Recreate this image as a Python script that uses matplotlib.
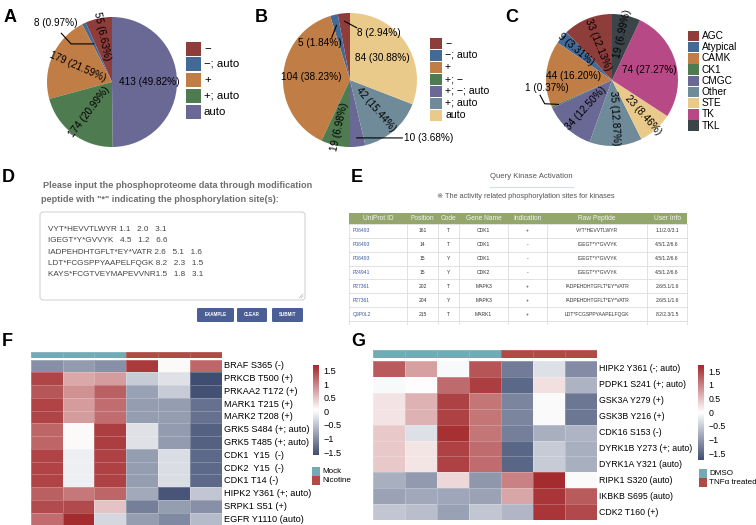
import numpy as np
import matplotlib
matplotlib.use("Agg")
import matplotlib.pyplot as plt
import matplotlib.cm as cm
from matplotlib.patches import Rectangle, FancyBboxPatch
from matplotlib.colors import LinearSegmentedColormap, ListedColormap, Normalize

plt.rcParams['font.family'] = ['Liberation Sans', 'DejaVu Sans', 'Noto Sans CJK SC']

W, H = 756, 525

### DATA ###
palette = ['#8E3D3B', '#436A97', '#C07D46', '#4F7B50', '#6A6894',
           '#6F8A99', '#E9CA8B', '#B74A86', '#3B4549']

a_labels = ['\u2212', '\u2212; auto', '+', '+; auto', 'auto']
a_counts = [55, 8, 179, 174, 413]
a_pcts = ['6.63%', '0.97%', '21.59%', '20.99%', '49.82%']

b_labels = ['\u2212', '\u2212; auto', '+', '+; \u2212', '+; \u2212; auto', '+; auto', 'auto']
b_counts = [8, 5, 104, 19, 10, 42, 84]
b_pcts = ['2.94%', '1.84%', '38.23%', '6.98%', '3.68%', '15.44%', '30.88%']

c_labels = ['AGC', 'Atypical', 'CAMK', 'CK1', 'CMGC', 'Other', 'STE', 'TK', 'TKL']
c_counts = [33, 9, 44, 1, 34, 35, 23, 74, 19]
c_pcts = ['12.13%', '3.31%', '16.20%', '0.37%', '12.50%', '12.87%', '8.46%', '27.27%', '6.99%']

d_title = ['Please input the phosphoproteome data through modification',
           'peptide with "*" indicating the phosphorylation site(s):']
d_lines = ['VYT*HEVVTLWYR 1.1   2.0   3.1',
           'IGEGT*Y*GVVYK   4.5   1.2   6.6',
           'IADPEHDHTGFLT*EY*VATR 2.6   5.1   1.6',
           'LDT*FCGSPPYAAPELFQGK 8.2   2.3   1.5',
           'KAYS*FCGTVEYMAPEVVNR1.5   1.8   3.1']
d_buttons = ['EXAMPLE', 'CLEAR', 'SUBMIT']

e_header = ['UniProt ID', 'Position', 'Code', 'Gene Name', 'Indication', 'Raw Peptide', 'User Info']
e_ids = ['P06493', 'P06493', 'P06493', 'P24941', 'P27361', 'P27361', 'Q9P0L2']
e_pos = ['161', '14', '15', '15', '202', '204', '215']
e_code = ['T', 'T', 'Y', 'Y', 'T', 'Y', 'T']
e_gene = ['CDK1', 'CDK1', 'CDK1', 'CDK2', 'MAPK3', 'MAPK3', 'MARK1']
e_ind = ['+', '-', '-', '-', '+', '+', '+']
e_pep = ['VYT*HEVVTLWYR', 'IGEGT*Y*GVVYK', 'IGEGT*Y*GVVYK', 'IGEGT*Y*GVVYK',
         'IADPEHDHTGFLT*EY*VATR', 'IADPEHDHTGFLT*EY*VATR', 'LDT*FCGSPPYAAPELFQGK']
e_info = ['1.1/2.0/3.1', '4.5/1.2/6.6', '4.5/1.2/6.6', '4.5/1.2/6.6',
          '2.6/5.1/1.6', '2.6/5.1/1.6', '8.2/2.3/1.5']

f_rows = ['BRAF S365 (-)', 'PRKCB T500 (+)', 'PRKAA2 T172 (+)', 'MARK1 T215 (+)',
          'MARK2 T208 (+)', 'GRK5 S484 (+; auto)', 'GRK5 T485 (+; auto)',
          'CDK1  Y15  (-)', 'CDK2  Y15  (-)', 'CDK1 T14 (-)', 'HIPK2 Y361 (+; auto)',
          'SRPK1 S51 (+)', 'EGFR Y1110 (auto)']
f_groups = [0, 0, 0, 1, 1, 1]
f_group_names = ['Mock', 'Nicotine']
f_vals = np.array([
    [-0.97, -0.87, -0.97, 1.57, 0.10, 1.22],
    [1.47, 0.71, 0.80, -0.43, -0.23, -1.59],
    [1.35, 0.89, 1.27, -0.82, -0.43, -1.55],
    [1.49, 0.80, 1.17, -0.86, -0.86, -1.26],
    [1.49, 0.80, 1.17, -0.86, -0.86, -1.26],
    [1.23, 0.09, 1.52, -0.23, -0.87, -1.41],
    [1.23, 0.09, 1.52, -0.23, -0.87, -1.41],
    [1.49, -0.10, 1.50, -0.86, -0.27, -1.34],
    [1.49, -0.10, 1.50, -0.86, -0.27, -1.34],
    [1.49, -0.10, 1.50, -0.86, -0.27, -1.34],
    [1.27, 1.09, 1.23, -0.74, -1.52, -0.47],
    [1.42, 1.44, 0.51, -1.13, -0.86, -0.97],
    [1.16, 1.67, -0.32, -0.86, -1.04, -0.57],
])

g_rows = ['HIPK2 Y361 (-; auto)', 'PDPK1 S241 (+; auto)', 'GSK3A Y279 (+)',
          'GSK3B Y216 (+)', 'CDK16 S153 (-)', 'DYRK1B Y273 (+; auto)',
          'DYRK1A Y321 (auto)', 'RIPK1 S320 (auto)', 'IKBKB S695 (auto)', 'CDK2 T160 (+)']
g_groups = [0, 0, 0, 0, 1, 1, 1]
g_group_names = ['DMSO', 'TNF\u03b1 treated']
g_vals = np.array([
    [1.30, 0.75, -0.08, 1.36, -1.28, -0.32, -1.14],
    [-0.08, 0.00, 1.18, 1.54, -1.49, 0.23, -0.75],
    [0.21, 0.60, 1.51, 1.09, -1.20, -0.06, -1.33],
    [0.21, 0.60, 1.51, 1.09, -1.20, -0.06, -1.33],
    [0.43, -0.32, 1.65, 1.09, -1.25, -0.80, -0.74],
    [0.43, 0.20, 1.51, 1.17, -1.50, -0.52, -0.79],
    [0.43, 0.20, 1.51, 1.17, -1.50, -0.52, -0.79],
    [-0.79, -1.00, 0.31, -1.02, 0.99, 1.69, -0.06],
    [-0.92, -0.86, -0.87, -0.92, 0.70, 1.60, 1.30],
    [-0.57, -0.64, -0.93, -0.56, -0.72, 1.60, 1.45],
])

cb_ticks = [1.5, 1, 0.5, 0, -0.5, -1, -1.5]
cb_ticklabels = ['1.5', '1', '0.5', '0', '\u22120.5', '\u22121', '\u22121.5']

### LAYOUT HELPERS ###
fig = plt.figure(figsize=(W / 100, H / 100), dpi=100)


def box(x, y, w, h):
    # axes placed in pixel units, y measured from the top
    return fig.add_axes([x / W, 1 - (y + h) / H, w / W, h / H])


ov = box(0, 0, W, H)
ov.set_xlim(0, W)
ov.set_ylim(H, 0)
ov.axis('off')

for let, x, y in [('A', 10, 17), ('B', 261, 17), ('C', 512, 17), ('D', 8, 177),
                  ('E', 357, 177), ('F', 7, 342), ('G', 358, 342)]:
    ov.text(x, y, let, ha='center', va='center', fontsize=13, fontweight='bold')


### PIES ###
def draw_pie(cx, cy, r, counts, pcts, modes, outs):
    ax = box(cx - r, cy - r, 2 * r, 2 * r)
    wedges, _ = ax.pie(counts, colors=palette[:len(counts)], startangle=90,
                       counterclock=True, wedgeprops=dict(linewidth=0))
    frac = np.array(counts) / sum(counts)
    k = 0
    for w, n, p, m, f in zip(wedges, counts, pcts, modes, frac):
        label = f'{n} ({p})'
        mid = (w.theta1 + w.theta2) / 2
        a = np.deg2rad(mid)
        if m == 'o':
            tx, ty, ha, elbows, rr = outs[k]
            k += 1
            xs = [rr * np.cos(a)] + [e[0] for e in elbows]
            ys = [rr * np.sin(a)] + [e[1] for e in elbows]
            ax.plot(xs, ys, color='black', lw=0.8, clip_on=False)
            ax.text(tx, ty, label, ha=ha, va='center', fontsize=7.2)
            continue
        rr = 0.58 if f > 0.09 else 0.72
        rot = 0
        if m == 'r':
            d = (mid + 180) % 360 - 180
            rot = d - 180 if d > 90 else (d + 180 if d < -90 else d)
        ax.text(rr * np.cos(a), rr * np.sin(a), label, rotation=rot,
                rotation_mode='anchor', ha='center', va='center', fontsize=7.2)
    ax.set_xlim(-1, 1)
    ax.set_ylim(-1, 1)
    ax.set_aspect('equal')
    ax.axis('off')


def pie_legend(x, y0, step, sw, sh, labels, fs):
    for i, lab in enumerate(labels):
        yc = y0 + i * step
        ov.add_patch(Rectangle((x, yc - sh / 2), sw, sh, fc=palette[i], ec='none'))
        ov.text(x + sw + 3, yc, lab, ha='left', va='center', fontsize=fs)


draw_pie(112, 82, 65, a_counts, a_pcts, ['r', 'o', 'r', 'r', 'h'],
         [(-0.86, 0.90, 'center', [(-0.63, 0.586), (-0.78, 0.75)], 0.65)])
pie_legend(186, 48.5, 15.9, 15, 14, a_labels, 8.2)

draw_pie(350, 80, 67, b_counts, b_pcts, ['o', 'o', 'h', 'r', 'o', 'r', 'h'],
         [(0.11, 0.70, 'left', [(0.10, 0.78)], 0.88),
          (-0.12, 0.55, 'right', [(-0.27, 0.64)], 0.84),
          (0.80, -0.865, 'left', [(0.78, -0.865)], 0.87)])
pie_legend(430, 43.3, 11.95, 12, 11, b_labels, 7.6)

draw_pie(612, 80, 66, c_counts, c_pcts, ['r', 'r', 'h', 'o', 'r', 'r', 'r', 'h', 'r'],
         [(-0.99, -0.12, 'center', [(-1.02, -0.36), (-1.09, -0.23)], 0.89)])
pie_legend(688, 36, 11.2, 11, 10.5, c_labels, 7.3)

### PANEL D ###
ov.text(43, 186, d_title[0], fontsize=6.6, fontweight='bold', color='#6E6E6E', va='center')
ov.text(41, 200, d_title[1], fontsize=6.6, fontweight='bold', color='#6E6E6E', va='center')
ov.add_patch(FancyBboxPatch((40, 212), 265, 88, boxstyle='round,pad=0,rounding_size=3',
                            fc='white', ec='#D4D4D4', lw=0.8))
for i, line in enumerate(d_lines):
    ov.text(48, 229.3 + i * 11.4, line, fontsize=5.9, color='#444444', va='center')
ov.plot([299, 303], [298, 294], color='#BBBBBB', lw=0.5)
ov.plot([301, 303], [298, 296], color='#BBBBBB', lw=0.5)
for lab, x0, x1 in zip(d_buttons, [197, 237, 272], [234, 267, 303]):
    ov.add_patch(FancyBboxPatch((x0, 308), x1 - x0, 14, boxstyle='round,pad=0,rounding_size=1.2',
                                fc='#4C5E96', ec='none'))
    ov.text((x0 + x1) / 2, 315, lab, fontsize=3.3, fontweight='bold', color='white',
            ha='center', va='center')

### PANEL E ###
ov.text(531, 177, 'Query Kinase Activation', fontsize=5.6, color='#555555', ha='center', va='center')
ov.plot([490, 573], [187, 187], color='#CFE0E3', lw=0.8)
ov.text(526, 197, '\u203b The activity related phosphorylation sites for kinases', fontsize=5.3,
        color='#555555', ha='center', va='center')

cols_x = [349, 407, 438, 459, 508, 547, 647, 687]
ov.add_patch(Rectangle((cols_x[0], 213), cols_x[-1] - cols_x[0], 11, fc='#93A66C', ec='none'))
for i, h in enumerate(e_header):
    ov.text((cols_x[i] + cols_x[i + 1]) / 2, 218.5, h, color='#F4F4F4', fontsize=4.8,
            ha='center', va='center')
row_top, row_h = 224, 13.85
n_rows = len(e_ids)
for r in range(n_rows + 1):
    ov.plot([cols_x[0], cols_x[-1]], [row_top + r * row_h] * 2, color='#DDDDDD', lw=0.6)
for x in cols_x:
    ov.plot([x, x], [row_top, row_top + n_rows * row_h + 3], color='#DDDDDD', lw=0.6)
for r in range(n_rows):
    yc = row_top + (r + 0.5) * row_h
    cells = [e_ids[r], e_pos[r], e_code[r], e_gene[r], e_ind[r], e_pep[r], e_info[r]]
    for c, val in enumerate(cells):
        if c == 0:
            ov.text(cols_x[0] + 4, yc, val, fontsize=3.6, color='#3A5BA0', ha='left', va='center')
        else:
            ov.text((cols_x[c] + cols_x[c + 1]) / 2, yc, val, fontsize=3.6, color='#333333',
                    ha='center', va='center')

### HEATMAPS ###
hm_cmap = LinearSegmentedColormap.from_list('nwr', ['#3F4D72', '#FFFFFF', '#A3282B'])
grp_cmap = ListedColormap(['#72AAB5', '#B04A44'])


def draw_heatmap(x0, y0, cw, rh, vals, rows, groups, gnames, bar_y, bar_h, vmin, vmax,
                 cb_box, leg_xy, fs):
    n_r, n_c = vals.shape
    ax = box(x0, y0, cw * n_c, rh * n_r)
    ax.pcolormesh(vals, cmap=hm_cmap, vmin=vmin, vmax=vmax,
                  edgecolors=(1, 1, 1, 0.22), linewidth=0.4)
    ax.set_xlim(0, n_c)
    ax.set_ylim(n_r, 0)
    ax.axis('off')
    for i, lab in enumerate(rows):
        ax.text(n_c + 2.0 / cw, i + 0.5, lab, ha='left', va='center', fontsize=fs, clip_on=False)

    bx = box(x0, bar_y, cw * n_c, bar_h)
    bx.pcolormesh(np.array([groups]), cmap=grp_cmap, vmin=0, vmax=1,
                  edgecolors=(1, 1, 1, 0.15), linewidth=0.4)
    bx.set_xlim(0, n_c)
    bx.axis('off')

    cax = box(*cb_box)
    cb = fig.colorbar(cm.ScalarMappable(norm=Normalize(vmin, vmax), cmap=hm_cmap), cax=cax)
    cb.outline.set_visible(False)
    cb.set_ticks(cb_ticks)
    cb.set_ticklabels(cb_ticklabels)
    cax.tick_params(length=0, labelsize=fs, pad=3)

    lx, ly = leg_xy
    for i, name in enumerate(gnames):
        ov.add_patch(Rectangle((lx, ly + i * 9), 8, 9, fc=grp_cmap.colors[i], ec='none'))
        ov.text(lx + 10, ly + i * 9 + 4.5, name, ha='left', va='center', fontsize=5.8)


draw_heatmap(30.7, 359.5, 31.83, 12.77, f_vals, f_rows, f_groups, f_group_names,
             351.7, 6.6, -1.6, 1.7, (313, 365, 6, 90), (312, 467), 6.6)
draw_heatmap(373, 361, 32, 15.9, g_vals, g_rows, g_groups, g_group_names,
             350, 8, -1.75, 1.72, (698, 365, 6, 95), (699, 469), 6.3)

fig.savefig('out.png', dpi=100)
